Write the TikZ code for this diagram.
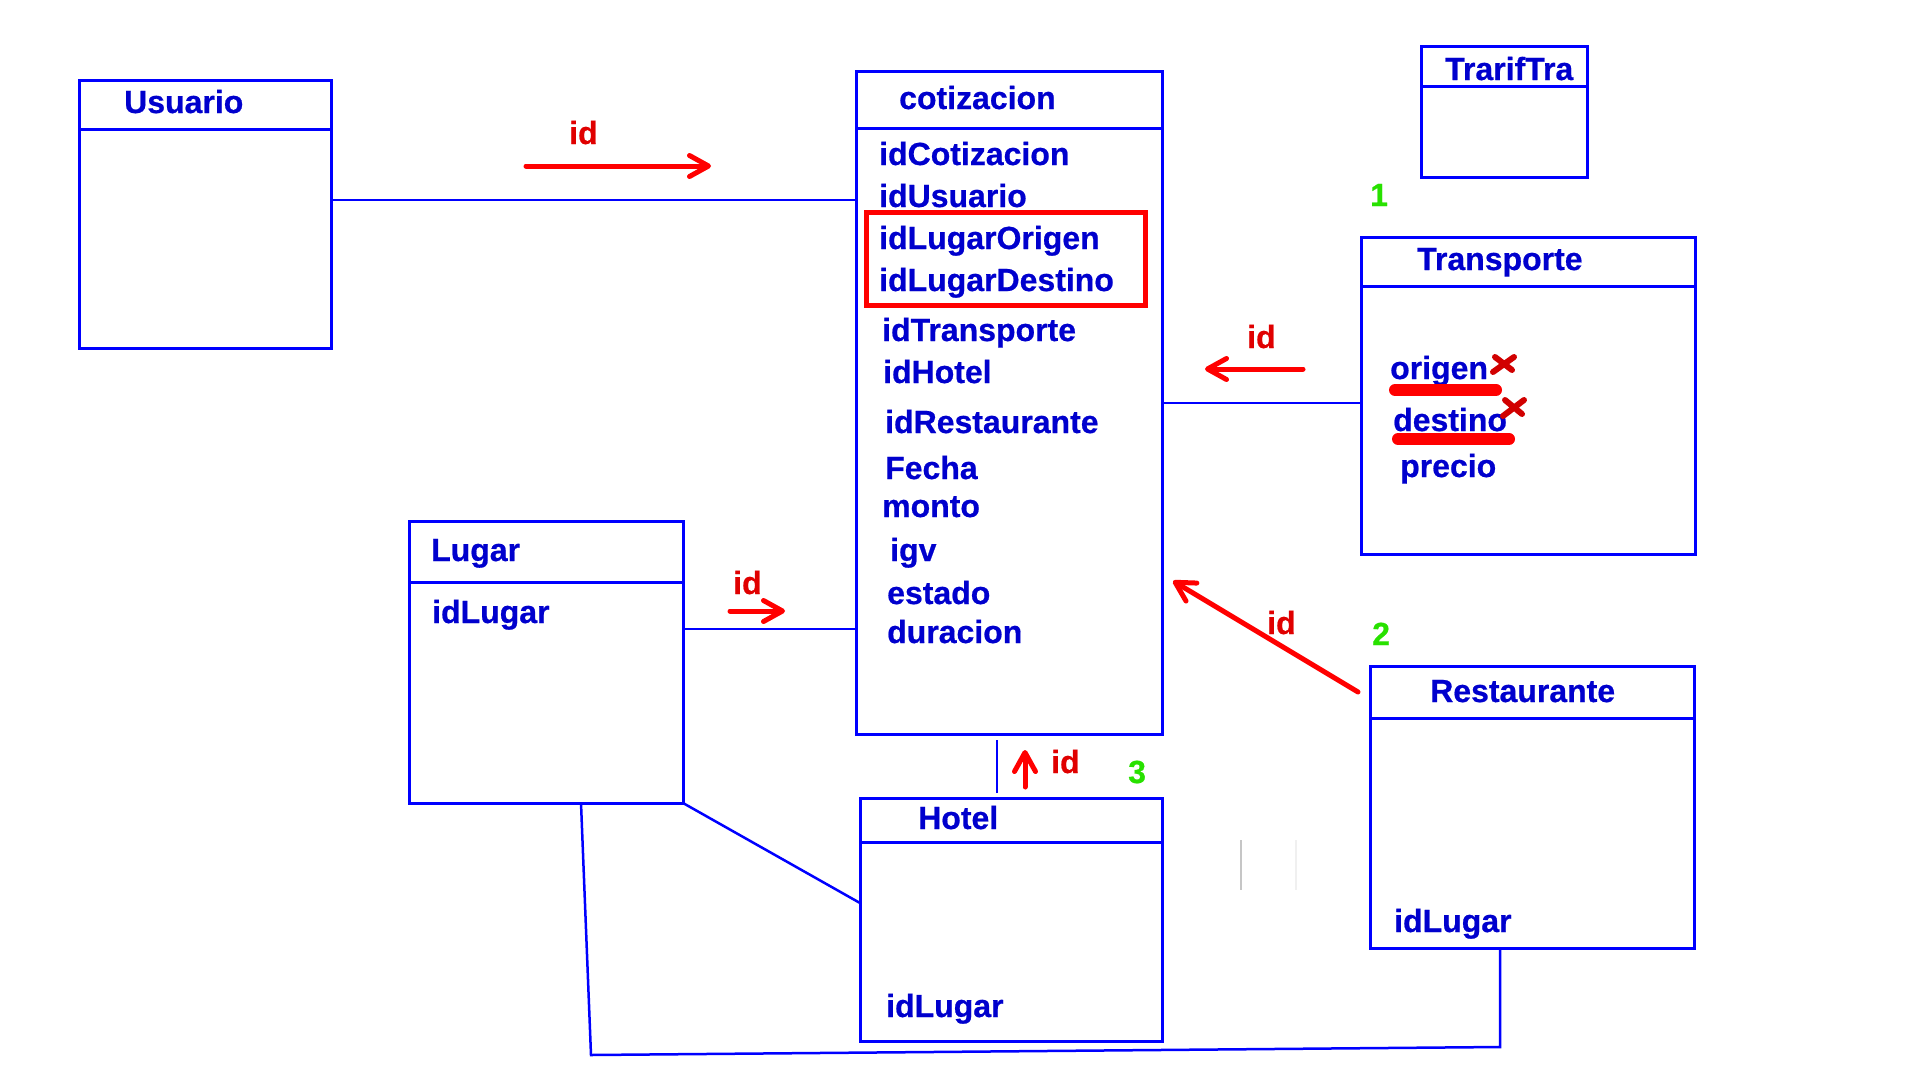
\documentclass[tikz,border=0pt]{standalone}
\usepackage{fontspec}
\setmainfont{Liberation Sans}
\newfontfamily\grueso[FakeBold=0.6]{Liberation Sans Bold}
\usetikzlibrary{positioning, arrows.meta, calc}

\definecolor{azul}{RGB}{0,0,255}
\definecolor{texto}{RGB}{0,0,205}
\definecolor{rojo}{RGB}{255,0,0}
\definecolor{verde}{RGB}{40,225,0}

\begin{document}
\begin{tikzpicture}[x=1pt, y=-1pt,
  tabla/.style = {draw=azul, line width=3pt, anchor=north west, inner sep=0pt, outer sep=0pt},
  titulo/.style = {anchor=base west, inner sep=0pt, text=texto, font=\fontsize{32}{38}\grueso},
  etiqueta/.style = {titulo, text=rojo!88!black},
  numero/.style = {titulo, text=verde},
  linea/.style = {draw=azul, line width=2.5pt},
  flecha/.style = {draw=rojo, line width=5pt, line cap=round, -{Straight Barb[length=19pt, width=21pt, round]}},
  tachado/.style = {draw=rojo, line width=12pt, line cap=round},
  cruz/.style = {draw=rojo!82!black, line width=6pt, line cap=round}]

\useasboundingbox (0,0) rectangle (1920,1080);

% tablas
\node[tabla, minimum width=252pt, minimum height=268pt] (usuario) at (79,80) {};
\node[tabla, minimum width=306pt, minimum height=663pt] (cotizacion) at (856,71) {};
\node[tabla, minimum width=166pt, minimum height=131pt] (trariftra) at (1421,46) {};
\node[tabla, minimum width=334pt, minimum height=317pt] (transporte) at (1361,237) {};
\node[tabla, minimum width=274pt, minimum height=282pt] (lugar) at (409,521) {};
\node[tabla, minimum width=302pt, minimum height=243pt] (hotel) at (860,798) {};
\node[tabla, minimum width=324pt, minimum height=282pt] (restaurante) at (1370,666) {};

\foreach \t/\h in {usuario/49, cotizacion/57, trariftra/40, transporte/49, lugar/61, hotel/44, restaurante/52}
  \draw[linea, line width=3pt] ($(\t.north west)+(0,\h)$) -- ($(\t.north east)+(0,\h)$);

% titulos
\node[titulo] (tUsuario) at (124,113) {Usuario};
\node[titulo] (tCotizacion) at (899,109) {cotizacion};
\node[titulo] (tTrarifTra) at (1445,80) {TrarifTra};
\node[titulo] (tTransporte) at (1417,270) {Transporte};
\node[titulo] (tLugar) at (431,561) {Lugar};
\node[titulo] (tHotel) at (918,829) {Hotel};
\node[titulo] (tRestaurante) at (1430,702) {Restaurante};

% campos
\foreach \x/\y/\c in {879/165/idCotizacion, 879/207/idUsuario, 879/249/idLugarOrigen,
    879/291/idLugarDestino, 882/341/idTransporte, 883/383/idHotel, 885/433/idRestaurante,
    885/479/Fecha, 882/517/monto, 890/561/igv, 887/604/estado, 887/643/duracion}
  \node[titulo] (c-\c) at (\x,\y) {\c};
\node[titulo] (origen) at (1390,379) {origen};
\node[titulo] (destino) at (1393,431) {destino};
\node[titulo] (precio) at (1400,477) {precio};
\node[titulo] (lugarId) at (432,623) {idLugar};
\node[titulo] (hotelId) at (886,1017) {idLugar};
\node[titulo] (restId) at (1394,932) {idLugar};

\draw[rojo, line width=5pt] (866,212) rectangle (1145,305);

% relaciones
\draw[linea] ($(usuario.north east)+(0,120)$) coordinate (u1) -- (u1 -| cotizacion.west);
\draw[linea] ($(transporte.north west)+(0,166)$) coordinate (t1) -- (t1 -| cotizacion.east);
\draw[linea] ($(lugar.north east)+(0,108)$) coordinate (l1) -- (l1 -| cotizacion.west);
\draw[linea, shorten <=5pt, shorten >=6pt] ($(hotel.north west)+(137,0)$) coordinate (h1) -- (h1 |- cotizacion.south);
\draw[linea] (lugar.south east) -- ($(hotel.north west)+(0,105)$);
\coordinate (b1) at (591,1055);
\coordinate (b2) at (1500,1047);
\draw[linea] ($(lugar.south west)+(172,0)$) -- (b1) -- (b2) -- ($(restaurante.south west)+(130,0)$);

% flechas id
\coordinate (f1a) at (526,166); \coordinate (f1b) at (711,166);
\coordinate (f2a) at (1303,369); \coordinate (f2b) at (1205,369);
\coordinate (f3a) at (730,611); \coordinate (f3b) at (785,611);
\coordinate (f4a) at (1025,787); \coordinate (f4b) at (1025,750);
\coordinate (f5a) at (1358,692); \coordinate (f5b) at (1173,581);
\foreach \a in {1,...,5}
  \draw[flecha] (f\a a) -- (f\a b);
\node[etiqueta] (id1) at (569,144) {id};
\node[etiqueta] (id2) at (1247,348) {id};
\node[etiqueta] (id3) at (733,594) {id};
\node[etiqueta] (id4) at (1051,773) {id};
\node[etiqueta] (id5) at (1267,634) {id};

\node[numero] (n1) at (1370,206) {1};
\node[numero] (n2) at (1372,645) {2};
\node[numero] (n3) at (1128,783) {3};

% tachados
\draw[tachado] (1395,390) -- (1496,390);
\draw[tachado] (1398,439) -- (1509,439);
\draw[cruz] (1495,357) -- (1512,370) (1493,372) -- (1514,357);
\draw[cruz] (1505,400) -- (1522,414) (1503,416) -- (1524,400);

\draw[gray!45, line width=2pt] (1241,840) -- (1241,890);
\draw[gray!12, line width=2pt] (1296,840) -- (1296,890);
\end{tikzpicture}
\end{document}
